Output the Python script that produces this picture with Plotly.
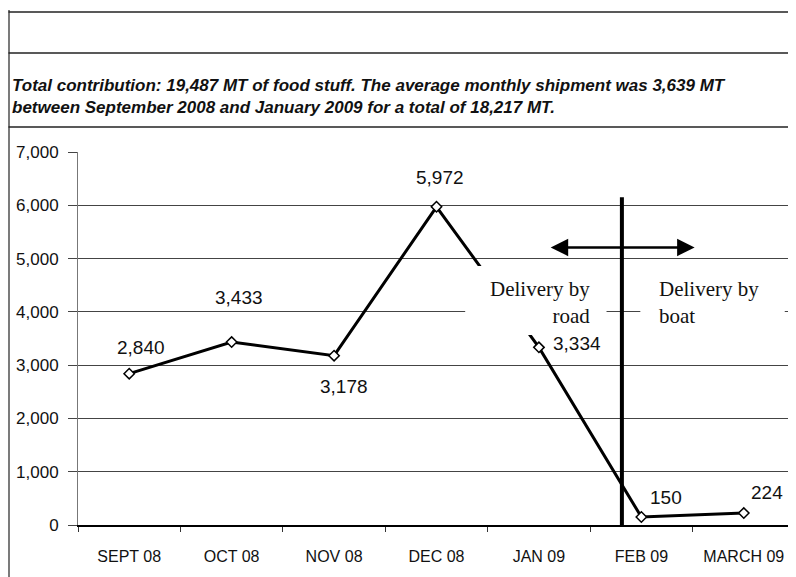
import plotly.graph_objects as go

# ---- data ----
months = ["SEPT 08", "OCT 08", "NOV 08", "DEC 08", "JAN 09", "FEB 09", "MARCH 09"]
shipments = [2840, 3433, 3178, 5972, 3334, 150, 224]
value_labels = ["2,840", "3,433", "3,178", "5,972", "3,334", "150", "224"]
y_ticks = [0, 1000, 2000, 3000, 4000, 5000, 6000, 7000]
title_line1 = "Total contribution: 19,487 MT of food stuff. The average monthly shipment was 3,639 MT"
title_line2 = "between September 2008 and January 2009 for a total of 18,217 MT."
road_text = "Delivery by<br>road"
boat_text = "Delivery by<br>boat"

# ---- layout geometry (pixels, in reference-page coordinates) ----
OFF = 8                      # page body margin of the browser
W, H = 796 - OFF, 577 - OFF  # figure size
PL, PR, PT, PB = 78, 795, 152, 525   # plot area in page pixels
L, T = PL - OFF, PT - OFF
R, B = W - (PR - OFF), H - (PB - OFF)
PW, PH = PR - PL, PB - PT


def px(x):
    return (x - PL) / PW


def py(y):
    return (PB - y) / PH


# label offsets (pixels: right, up)
label_shift = [(12, 26), (7, 45), (10, -31), (3, 29), (38, 4), (25, 20), (23, 21)]

fig = go.Figure()
fig.add_trace(go.Scatter(
    x=months, y=shipments, mode="lines+markers",
    line=dict(color="black", width=3),
    marker=dict(symbol="diamond", size=8, color="white",
                line=dict(color="black", width=1.5)),
    showlegend=False, hoverinfo="skip",
))

ann = []
for m, v, t, (dx, dy) in zip(months, shipments, value_labels, label_shift):
    ann.append(dict(x=m, y=v, text=t, showarrow=False, xshift=dx, yshift=dy,
                    font=dict(family="Liberation Sans", size=19, color="#111")))

# title text (two lines)
for line, yy in ((title_line1, 85), (title_line2, 108)):
    ann.append(dict(xref="paper", yref="paper", x=px(10), y=py(yy), xanchor="left",
                    yanchor="middle", align="left", showarrow=False,
                    text="<b><i>" + line + "</i></b>",
                    font=dict(family="Liberation Sans", size=17, color="#111")))

# delivery texts
ann.append(dict(x=4.52, y=4185, xanchor="right", yanchor="middle", align="right",
                showarrow=False, text=road_text,
                font=dict(family="Liberation Serif", size=21, color="#111")))
ann.append(dict(x=5.15, y=4185, xanchor="left", yanchor="middle", align="left",
                showarrow=False, text=boat_text,
                font=dict(family="Liberation Serif", size=21, color="#111")))

# double arrow
ann.append(dict(x=5.52, y=5210, ax=4.10, ay=5210, xref="x", yref="y", axref="x", ayref="y",
                text="", showarrow=True, arrowhead=2, startarrowhead=2, arrowside="end+start",
                arrowsize=1.4, startarrowsize=1.4, arrowwidth=2.5, arrowcolor="black"))

shapes = [
    # page frame lines
    dict(type="line", xref="paper", yref="paper", x0=px(8.5), x1=px(800), y0=py(12), y1=py(12),
         line=dict(color="#222", width=1.5)),
    dict(type="line", xref="paper", yref="paper", x0=px(8.5), x1=px(800), y0=py(53), y1=py(53),
         line=dict(color="#222", width=1.5)),
    dict(type="line", xref="paper", yref="paper", x0=px(8.5), x1=px(800), y0=py(127), y1=py(127),
         line=dict(color="#222", width=1.5)),
    dict(type="line", xref="paper", yref="paper", x0=px(9), x1=px(9), y0=py(10), y1=py(580),
         line=dict(color="#222", width=1.2)),
    # white text boxes covering the chart
    dict(type="rect", xref="x", yref="y", x0=3.28, x1=4.66, y0=3565, y1=4860,
         fillcolor="white", line=dict(width=0), layer="above"),
    dict(type="rect", xref="x", yref="y", x0=4.99, x1=6.40, y0=3565, y1=4860,
         fillcolor="white", line=dict(width=0), layer="above"),
    # vertical separator
    dict(type="line", xref="x", yref="y", x0=4.81, x1=4.81, y0=0, y1=6150,
         line=dict(color="black", width=4), layer="above"),
]

fig.update_layout(
    width=W, height=H, margin=dict(l=L, r=R, t=T, b=B, autoexpand=False),
    paper_bgcolor="white", plot_bgcolor="white",
    annotations=ann, shapes=shapes,
    xaxis=dict(type="category", range=[-0.5, 6.5], showgrid=False,
               showline=True, linecolor="black", linewidth=1.5,
               ticks="outside", tickson="boundaries", ticklen=5, tickcolor="#333",
               ticklabelstandoff=16,
               tickfont=dict(family="Liberation Sans", size=16, color="#111")),
    yaxis=dict(range=[0, 7000], tickvals=y_ticks, tickformat=",",
               showgrid=True, gridcolor="#444", gridwidth=1,
               showline=True, linecolor="#777", linewidth=1,
               ticks="outside", ticklen=9, tickcolor="#444", zeroline=False,
               ticklabelstandoff=6,
               tickfont=dict(family="Liberation Sans", size=17, color="#111")),
)

fig.write_html("out.html")
